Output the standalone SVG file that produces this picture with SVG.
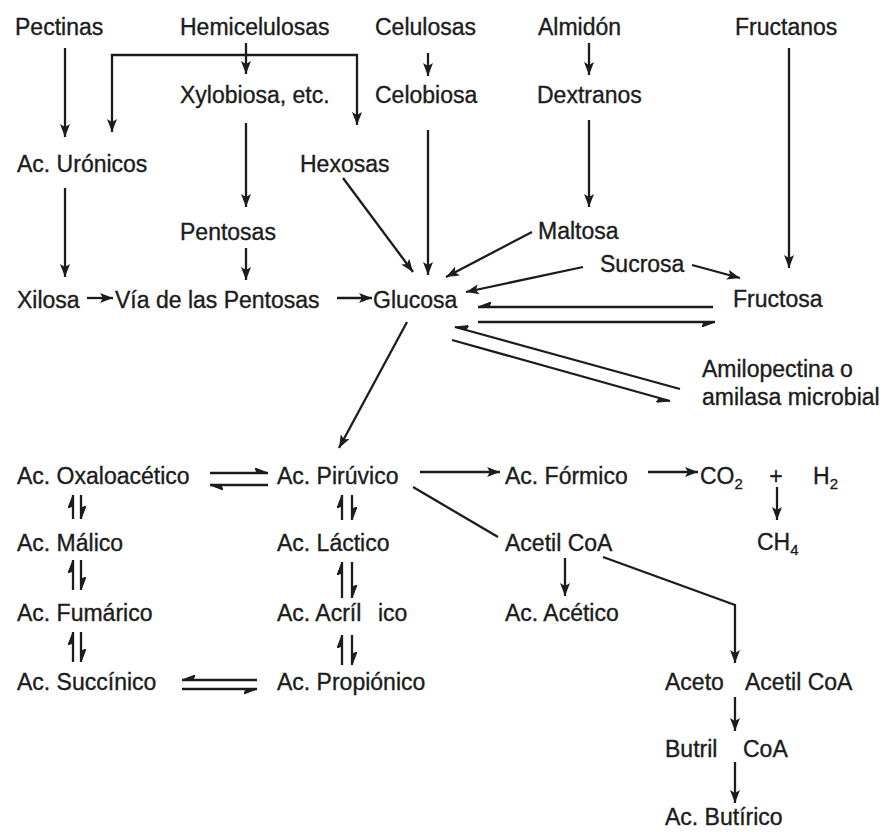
<svg xmlns="http://www.w3.org/2000/svg" width="890" height="832" viewBox="0 0 890 832">
<style>
text{font-family:"Liberation Sans",Arial,sans-serif;font-size:23px;fill:#1c1c1c;stroke:#1c1c1c;stroke-width:0.35}
.sub{font-size:15px}
.c path{fill:none;stroke:#1c1c1c;stroke-width:2.3}
.a{marker-end:url(#ah)}
.hl{marker-end:url(#hl)}
.hr{marker-end:url(#hr)}
</style>
<defs>
<marker id="ah" markerUnits="userSpaceOnUse" markerWidth="14" markerHeight="10" refX="13" refY="5" orient="auto" viewBox="0 0 14 10"><path d="M0,0 L13,5 L0,10 L3,5 z" fill="#1c1c1c"/></marker>
<marker id="hl" markerUnits="userSpaceOnUse" markerWidth="14" markerHeight="10" refX="13" refY="5" orient="auto" viewBox="0 0 14 10"><path d="M13,5 L0,0 L2,5 z" fill="#1c1c1c" stroke="#1c1c1c" stroke-width="1"/></marker>
<marker id="hr" markerUnits="userSpaceOnUse" markerWidth="14" markerHeight="10" refX="13" refY="5" orient="auto" viewBox="0 0 14 10"><path d="M13,5 L0,10 L2,5 z" fill="#1c1c1c" stroke="#1c1c1c" stroke-width="1"/></marker>
</defs>
<rect width="890" height="832" fill="#fff"/>
<g class="c" id="connectors">
<path class="a" d="M65,48 V137"/>
<path class="a" d="M246,55 H112 V132"/>
<path class="a" d="M246,55 H357 V125"/>
<path class="a" d="M246,43 V74"/>
<path class="a" d="M428,53 V76"/>
<path class="a" d="M589,43 V75"/>
<path class="a" d="M789,48 V268"/>
<path class="a" d="M246,123 V207"/>
<path class="a" d="M589,120 V207"/>
<path class="a" d="M65,188 V277"/>
<path class="a" d="M428,130 V275"/>
<path class="a" d="M343,178 L413,272"/>
<path class="a" d="M246,248 V280"/>
<path class="a" d="M87,298 H113"/>
<path class="a" d="M337,298 H372"/>
<path class="a" d="M532,232 L446,277"/>
<path class="a" d="M583,267 L466,292"/>
<path class="a" d="M692,265 L740,278"/>
<path class="hr" d="M713,307 H478"/>
<path class="hr" d="M478,322 H715"/>
<path class="hr" d="M680,389 L455,327"/>
<path class="hr" d="M452,340 L670,401"/>
<path class="a" d="M407,322 L339,448"/>
<path class="a" d="M420,472 H500"/>
<path class="a" d="M648,472 H698"/>
<path class="a" d="M777,487 V520"/>
<path d="M413,487 L498,537"/>
<path class="a" d="M565,558 V596"/>
<path class="a" d="M603,557 L735,605 V663"/>
<path class="a" d="M735,697 V731"/>
<path class="a" d="M735,762 V803"/>
<path class="hl" d="M210,473 H268"/>
<path class="hl" d="M268,485 H210"/>
<path class="hr" d="M257,680 H182"/>
<path class="hr" d="M182,689 H257"/>
<path class="hl" d="M73,519 V495"/>
<path class="hl" d="M81,495 V519"/>
<path class="hl" d="M73,590 V560"/>
<path class="hl" d="M81,560 V590"/>
<path class="hl" d="M73,662 V632"/>
<path class="hl" d="M81,632 V662"/>
<path class="hl" d="M342,520 V495"/>
<path class="hl" d="M352,495 V520"/>
<path class="hl" d="M342,598 V562"/>
<path class="hl" d="M352,562 V598"/>
<path class="hl" d="M342,665 V635"/>
<path class="hl" d="M352,635 V665"/>
</g>
<g id="pectinas"><text x="15" y="35">Pectinas</text></g>
<g id="hemicelulosas"><text x="180" y="35">Hemicelulosas</text></g>
<g id="celulosas"><text x="375" y="35">Celulosas</text></g>
<g id="almidon"><text x="538" y="35">Almidón</text></g>
<g id="fructanos"><text x="735" y="35">Fructanos</text></g>
<g id="xylobiosa"><text x="180" y="103">Xylobiosa, etc.</text></g>
<g id="celobiosa"><text x="375" y="103">Celobiosa</text></g>
<g id="dextranos"><text x="537" y="103">Dextranos</text></g>
<g id="uronicos"><text x="17" y="172">Ac. Urónicos</text></g>
<g id="hexosas"><text x="300" y="172">Hexosas</text></g>
<g id="pentosas"><text x="180" y="240">Pentosas</text></g>
<g id="maltosa"><text x="538" y="239">Maltosa</text></g>
<g id="sucrosa"><text x="600" y="272">Sucrosa</text></g>
<g id="xilosa"><text x="17" y="308">Xilosa</text></g>
<g id="via"><text x="115" y="308">Vía de las Pentosas</text></g>
<g id="glucosa"><text x="373" y="308">Glucosa</text></g>
<g id="fructosa"><text x="733" y="307">Fructosa</text></g>
<g id="amilopectina"><text x="702" y="377">Amilopectina o</text><text x="702" y="405">amilasa microbial</text></g>
<g id="oxaloacetico"><text x="17" y="484">Ac. Oxaloacético</text></g>
<g id="piruvico"><text x="277" y="484">Ac. Pirúvico</text></g>
<g id="formico"><text x="505" y="484">Ac. Fórmico</text></g>
<g id="co2"><text x="700" y="484">CO<tspan class="sub" dy="5">2</tspan></text></g>
<g id="plus"><text x="776" y="484" text-anchor="middle">+</text></g>
<g id="h2"><text x="813" y="484">H<tspan class="sub" dy="5">2</tspan></text></g>
<g id="malico"><text x="17" y="551">Ac. Málico</text></g>
<g id="lactico"><text x="277" y="551">Ac. Láctico</text></g>
<g id="acetilcoa"><text x="505" y="551">Acetil CoA</text></g>
<g id="ch4"><text x="757" y="550">CH<tspan class="sub" dy="5">4</tspan></text></g>
<g id="fumarico"><text x="17" y="621">Ac. Fumárico</text></g>
<g id="acrilico"><text x="277" y="621">Ac. Acríl<tspan x="378">ico</tspan></text></g>
<g id="acetico"><text x="505" y="621">Ac. Acético</text></g>
<g id="succinico"><text x="17" y="690">Ac. Succínico</text></g>
<g id="propionico"><text x="277" y="690">Ac. Propiónico</text></g>
<g id="acetoacetil"><text x="665" y="690">Aceto<tspan x="745">Acetil CoA</tspan></text></g>
<g id="butril"><text x="665" y="757">Butril<tspan x="743">CoA</tspan></text></g>
<g id="butirico"><text x="665" y="825">Ac. Butírico</text></g>
</svg>
